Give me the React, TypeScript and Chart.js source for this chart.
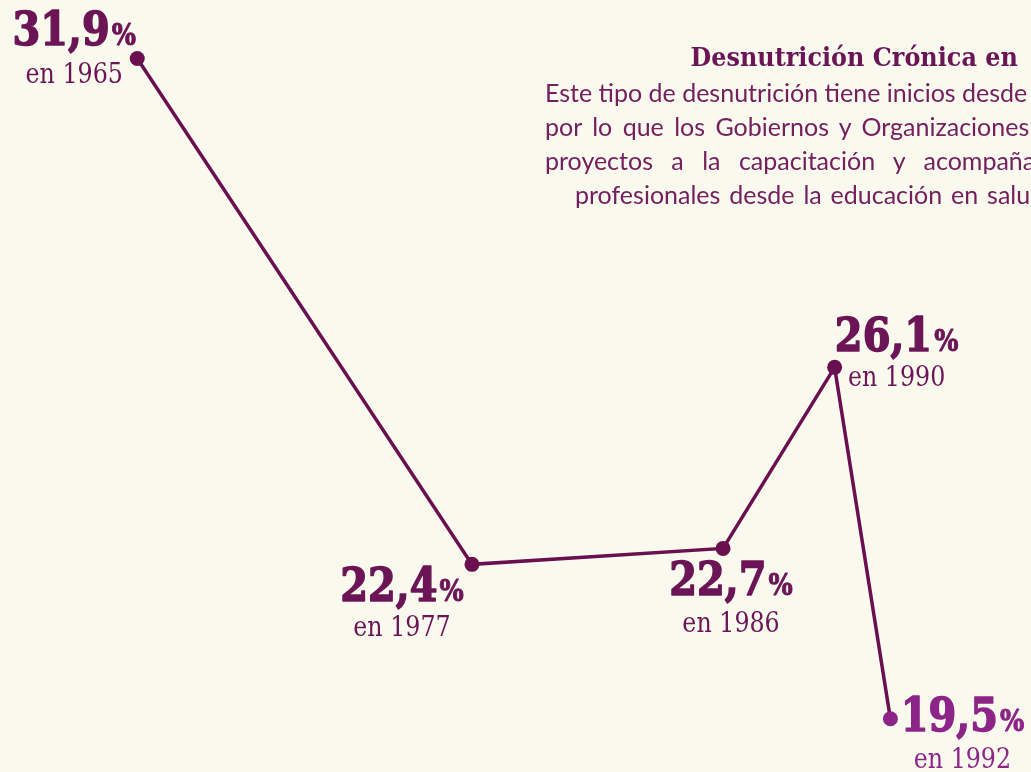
import React, { useEffect, useRef } from "react";
import { Chart, registerables } from "chart.js";

Chart.register(...registerables);

// ---- data ----
const years = [1965, 1977, 1986, 1990, 1992];
const values = [31.9, 22.4, 22.7, 26.1, 19.5];
const valueLabels = ["31,9", "22,4", "22,7", "26,1", "19,5"];
const yearLabels = ["en 1965", "en 1977", "en 1986", "en 1990", "en 1992"];

const titleText = "Desnutrición Crónica en";
const paragraphLines = [
  "Este tipo de desnutrición tiene inicios desde",
  "por lo que los Gobiernos y Organizaciones",
  "proyectos a la capacitación y acompañamiento",
  "profesionales desde la educación en salud",
];

// ---- styles ----
const BG = "#f9f9ee";
const DARK = "#6a0f4f";
const LABEL = "#6b1556";
const ACCENT = "#8d2588";
const TEXT = "#74205f";

// label placement relative to each point: center dx, number baseline dy, year baseline dy
const labelPlacement = [
  { dx: -63, dyNum: -14, dyYear: 24 },
  { dx: -70, dyNum: 37, dyYear: 72 },
  { dx: 8, dyNum: 47, dyYear: 84 },
  { dx: 62, dyNum: -16, dyYear: 19 },
  { dx: 72, dyNum: 12, dyYear: 49 },
];
const labelColors = [LABEL, LABEL, LABEL, LABEL, ACCENT];
const pointColors = [DARK, DARK, DARK, DARK, ACCENT];

const NUM_FONT = "bold 47px 'DejaVu Serif'";
const PCT_FONT = "bold 30px 'DejaVu Serif'";
const YEAR_FONT = "27px 'DejaVu Serif'";
const NUM_SX = 0.85;
const YEAR_SX = 0.88;

const labelPlugin = {
  id: "pointLabels",
  afterDatasetsDraw(chart: any) {
    const ctx = chart.ctx as CanvasRenderingContext2D;
    const meta = chart.getDatasetMeta(0);
    meta.data.forEach((pt: any, i: number) => {
      const p = labelPlacement[i];
      const cx = pt.x + p.dx;
      ctx.save();
      ctx.fillStyle = labelColors[i];
      ctx.strokeStyle = labelColors[i];
      ctx.lineJoin = "round";
      ctx.textBaseline = "alphabetic";
      ctx.textAlign = "left";
      ctx.font = NUM_FONT;
      const wNum = ctx.measureText(valueLabels[i]).width * NUM_SX;
      ctx.font = PCT_FONT;
      const wPct = ctx.measureText("%").width * NUM_SX;
      const total = wNum + 2 + wPct;
      const x0 = cx - total / 2;
      const yNum = pt.y + p.dyNum;
      ctx.save();
      ctx.translate(x0, yNum);
      ctx.scale(NUM_SX, 1);
      ctx.font = NUM_FONT;
      ctx.lineWidth = 1.6;
      ctx.fillText(valueLabels[i], 0, 0);
      ctx.strokeText(valueLabels[i], 0, 0);
      ctx.restore();
      ctx.save();
      ctx.translate(x0 + wNum + 2, yNum);
      ctx.scale(NUM_SX, 1);
      ctx.font = PCT_FONT;
      ctx.lineWidth = 1;
      ctx.fillText("%", 0, 0);
      ctx.strokeText("%", 0, 0);
      ctx.restore();
      ctx.font = YEAR_FONT;
      const wYear = ctx.measureText(yearLabels[i]).width * YEAR_SX;
      ctx.save();
      ctx.translate(cx - wYear / 2, pt.y + p.dyYear);
      ctx.scale(YEAR_SX, 1);
      ctx.fillText(yearLabels[i], 0, 0);
      ctx.restore();
      ctx.restore();
    });
  },
};

export default function App() {
  const canvasRef = useRef<HTMLCanvasElement | null>(null);

  useEffect(() => {
    document.body.style.margin = "0";
    const canvas = canvasRef.current;
    if (!canvas) return;
    const chart = new Chart(canvas, {
      type: "line",
      data: {
        datasets: [
          {
            data: years.map((y, i) => ({ x: y, y: values[i] })),
            borderColor: DARK,
            borderWidth: 3.5,
            pointRadius: 7.5,
            pointHoverRadius: 7.5,
            pointBackgroundColor: pointColors,
            pointBorderWidth: 0,
            tension: 0,
            fill: false,
            clip: false,
          },
        ],
      },
      options: {
        animation: false,
        responsive: false,
        maintainAspectRatio: false,
        layout: { padding: 0, autoPadding: false },
        plugins: {
          legend: { display: false },
          tooltip: { enabled: false },
        },
        scales: {
          x: { type: "linear", min: 1960.08, max: 1997.04, display: false },
          y: { type: "linear", min: 18.5, max: 33.0, display: false },
        },
      },
      plugins: [labelPlugin],
    });
    return () => chart.destroy();
  }, []);

  const lineTops = [75, 109, 143, 177];
  const lineLefts = [545, 545, 545, 575];
  const wordSpacings = [0, 4, 12, 2.5];

  return (
    <div
      style={{
        position: "fixed",
        left: 0,
        top: 0,
        width: 1031,
        height: 772,
        background: BG,
        overflow: "hidden",
      }}
    >
      <canvas
        ref={canvasRef}
        width={1031}
        height={772}
        style={{ position: "absolute", left: 0, top: 0, width: 1031, height: 772 }}
      />
      <div
        style={{
          position: "absolute",
          right: 13,
          top: 44,
          fontFamily: "'DejaVu Serif', serif",
          fontWeight: "bold",
          fontSize: 26,
          lineHeight: "26px",
          color: LABEL,
          whiteSpace: "nowrap",
          transform: "scaleX(0.92)",
          transformOrigin: "right center",
        }}
      >
        {titleText}
      </div>
      {paragraphLines.map((line, i) => (
        <div
          key={i}
          style={{
            position: "absolute",
            left: lineLefts[i],
            top: lineTops[i],
            fontFamily: "Lato, sans-serif",
            fontSize: 25,
            lineHeight: "34px",
            color: TEXT,
            whiteSpace: "nowrap",
            wordSpacing: wordSpacings[i],
          }}
        >
          {line}
        </div>
      ))}
    </div>
  );
}
